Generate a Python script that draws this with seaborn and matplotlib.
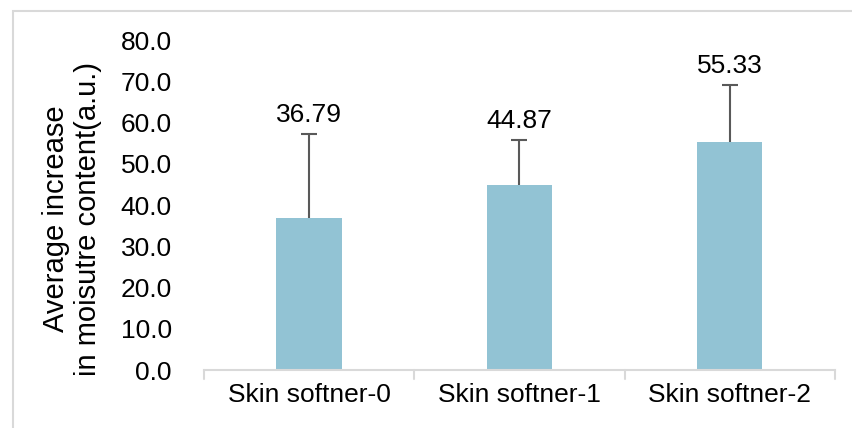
import matplotlib.pyplot as plt
import seaborn as sns
import numpy as np

categories = ['Skin softner-0', 'Skin softner-1', 'Skin softner-2']
means = [36.79, 44.87, 55.33]
errors = [20.4, 10.9, 13.8]

sns.set_style('white')
plt.rcParams['font.family'] = ['Liberation Sans', 'DejaVu Sans']
plt.rcParams['text.color'] = 'black'
plt.rcParams['axes.labelcolor'] = 'black'
plt.rcParams['xtick.color'] = 'black'
plt.rcParams['ytick.color'] = 'black'

fig = plt.figure(figsize=(8.53, 4.28), dpi=100)
ax = fig.add_axes([0.239, 0.1355, 0.740, 0.771])

sns.barplot(x=categories, y=means, color='#92c3d4', width=0.31, saturation=1,
            linewidth=0, ax=ax)
eb = ax.errorbar(np.arange(len(categories)), means, yerr=[np.zeros(len(errors)), errors],
                 fmt='none', ecolor='#595959', elinewidth=1.5, capsize=6, capthick=1.5)
eb[1][0].set_visible(False)  # no cap at the bar top

for i, (m, e) in enumerate(zip(means, errors)):
    ax.annotate(f'{m:.2f}', (i, m + e), xytext=(0, 5), textcoords='offset points',
                ha='center', va='bottom', fontsize=19, color='black')

ax.set_ylim(0, 80)
ax.set_xlim(-0.5, 2.5)
ax.set_yticks(np.arange(0, 81, 10))
ax.set_yticklabels([f'{v:.1f}' for v in np.arange(0, 81, 10)], fontsize=19)
ax.tick_params(axis='x', labelsize=19, length=0, pad=9)
ax.tick_params(axis='y', length=0, pad=23)
ax.set_ylabel('Average increase\nin moisutre content(a.u.)', fontsize=21,
              linespacing=1.2)
ax.yaxis.set_label_coords(-0.161, 0.458)

for s in ['top', 'right', 'left']:
    ax.spines[s].set_visible(False)
ax.spines['bottom'].set_color('#d9d9d9')
ax.spines['bottom'].set_linewidth(1.5)

# category divider ticks below the axis
for xb in [-0.5, 0.5, 1.5, 2.5]:
    ax.plot([xb, xb], [0, -2.2], color='#d9d9d9', lw=1.5, clip_on=False)

# outer border of the chart area
fig.add_artist(plt.Rectangle((13 / 853, -0.05), 1.2, 1.05 - 11 / 428, transform=fig.transFigure,
                             fill=False, edgecolor='#d9d9d9', lw=1.5))

fig.savefig('out.png', dpi=100)
